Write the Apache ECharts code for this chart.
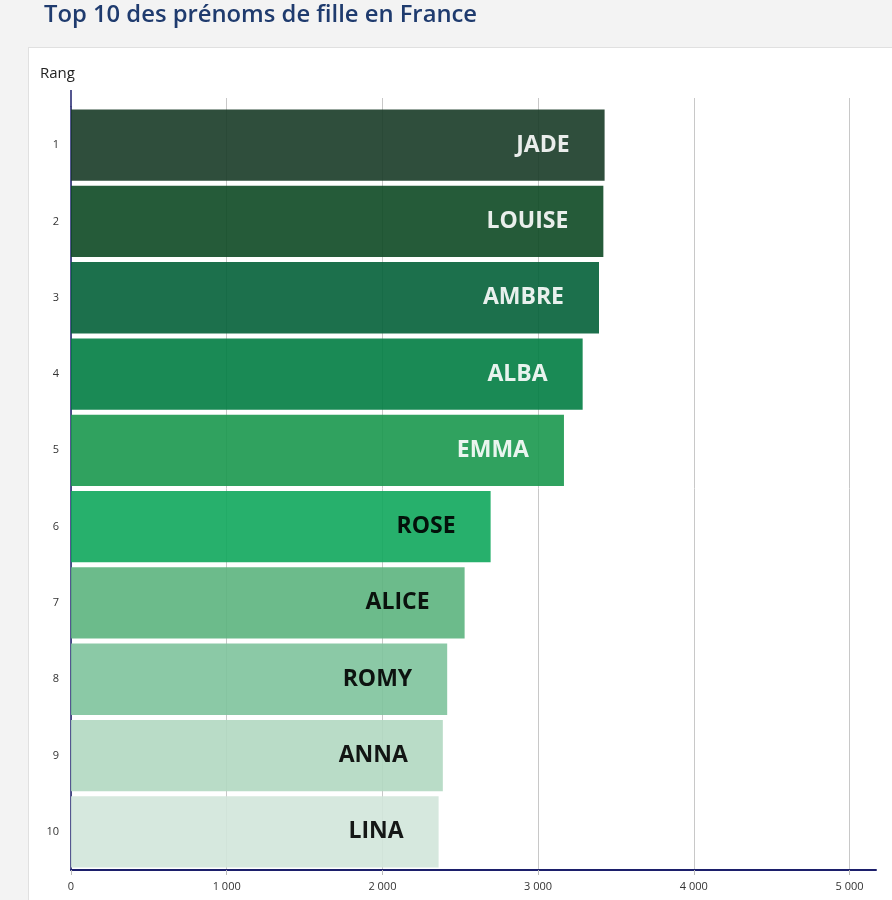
<!DOCTYPE html>
<html><head><meta charset="utf-8">
<script src="https://cdn.jsdelivr.net/npm/echarts@6/dist/echarts.min.js"></script>
<style>
html,body{margin:0;padding:0;background:#f3f3f3;overflow:hidden;}
#panel{position:absolute;left:28px;top:47px;width:900px;height:900px;background:#fff;border:1px solid #e0e0e0;}
#chart{position:absolute;left:0;top:0;width:892px;height:900px;}
</style></head><body>
<div id="panel"></div><div id="chart"></div>
<script>
const ranks = ['1','2','3','4','5','6','7','8','9','10'];
const names = ['JADE','LOUISE','AMBRE','ALBA','EMMA','ROSE','ALICE','ROMY','ANNA','LINA'];
const counts = [3427,3419,3391,3286,3166,2695,2528,2416,2388,2361];
const barColors = ['#183b27','#0d4924','#036039','#017d43','#19984e','#0fa75c','#5cb47e','#7ec39c','#b1d8c1','#d1e6da'];
const labelColors = ['#ffffff','#ffffff','#ffffff','#ffffff','#ffffff','#000000','#000000','#000000','#000000','#000000'];
const xTicks = [0,1000,2000,3000,4000,5000];

const chart = echarts.init(document.getElementById('chart'), null, {renderer:'canvas'});
const fmt = v => String(v).replace(/\B(?=(\d{3})+(?!\d))/g, ' ');
const GRID_TOP = 107;
const option = {
  backgroundColor: 'transparent',
  animation: false,
  title: [
    {text: 'Top 10 des prénoms de fille en France', left: 39, top: -2,
     textStyle: {fontFamily: 'Open Sans', fontSize: 23.8, fontWeight: 600, color: '#1f3b6e'}},
    {text: 'Rang', left: 35, top: 61,
     textStyle: {fontFamily: 'Open Sans', fontSize: 15, fontWeight: 'normal', color: '#222'}}
  ],
  grid: {left: 71, right: 16, top: GRID_TOP, bottom: 30, containLabel: false},
  xAxis: {
    type: 'value', min: 0, max: 5170, interval: 1000,
    axisLine: {show: true, lineStyle: {color: '#1c1f6b', width: 2}},
    axisTick: {show: true, length: 5, lineStyle: {color: '#bbbbbb'}, customValues: xTicks},
    axisLabel: {fontFamily: 'Open Sans', fontSize: 11, color: '#333', margin: 11,
      customValues: xTicks, formatter: v => fmt(v)},
    splitLine: {show: true, lineStyle: {color: '#c8c8c8', width: 1}}
  },
  yAxis: {
    type: 'category', inverse: true, data: ranks,
    axisLine: {show: true, lineStyle: {color: '#1c1f6b', width: 1.5}},
    axisTick: {show: false},
    axisLabel: {fontFamily: 'Open Sans', fontSize: 11, color: '#333', margin: 12},
    splitLine: {show: false}
  },
  series: [{
    type: 'bar',
    barCategoryGap: '6.5%',
    data: counts.map((v, i) => ({
      value: v,
      itemStyle: {color: barColors[i], opacity: 0.9},
      label: {color: labelColors[i]}
    })),
    label: {
      show: true, position: 'insideRight', distance: 35,
      fontFamily: 'Open Sans', fontSize: 23, fontWeight: 'bold',
      formatter: p => names[p.dataIndex]
    }
  }]
};
chart.setOption(option);

// same sub-pixel snapping as ECharts uses for 1px split lines
const snap = x => { const d = Math.round(x * 2); return (d + 1) % 2 === 0 ? d / 2 : (d + 1) / 2; };
// extend axis line and grid lines above the plot area, as in the reference
const gfx = [];
const x0 = chart.convertToPixel({xAxisIndex: 0}, 0);
gfx.push({type: 'line', shape: {x1: x0, y1: GRID_TOP - 17, x2: x0, y2: GRID_TOP}, style: {stroke: '#1c1f6b', lineWidth: 1.5}, z: 10});
xTicks.slice(1).forEach(v => {
  const x = snap(chart.convertToPixel({xAxisIndex: 0}, v));
  gfx.push({type: 'line', shape: {x1: x, y1: GRID_TOP - 9, x2: x, y2: GRID_TOP + 1}, style: {stroke: '#c8c8c8', lineWidth: 1}, z: 0});
});
chart.setOption({graphic: gfx});
</script>
</body></html>
